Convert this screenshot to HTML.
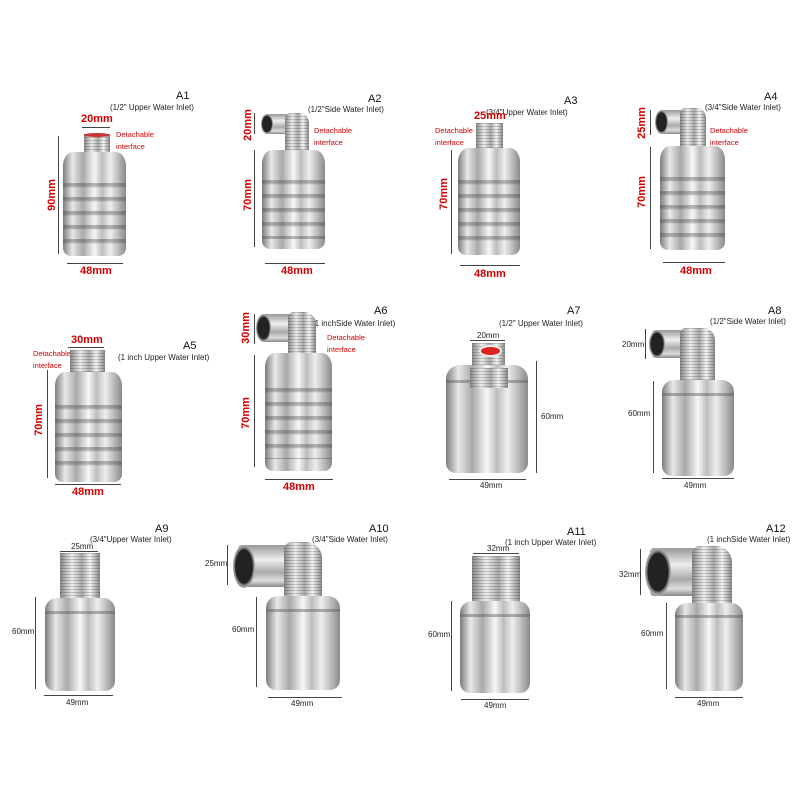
<!DOCTYPE html>
<html><head><meta charset="utf-8"><style>
body{margin:0;background:#fff}
#c{position:relative;width:800px;height:800px;overflow:hidden;background:#fff;font-family:"Liberation Sans",sans-serif}
#c div{position:absolute}
.b{background:linear-gradient(90deg,#7d7d7d,#e8e8e8 15%,#a9a9a9 32%,#f7f7f7 50%,#bdbdbd 62%,#eeeeee 75%,#8a8a8a);border-radius:10px 10px 8px 8px/14px 14px 8px 8px}
.r:after{content:"";position:absolute;left:0;right:0;top:30%;bottom:10%;background:repeating-linear-gradient(180deg,rgba(60,60,60,.35) 0,rgba(60,60,60,.35) 3px,rgba(255,255,255,0) 5px,rgba(255,255,255,0) 14px)}
.s:after{content:"";position:absolute;left:0;right:0;top:14%;height:3px;background:rgba(90,90,90,.45)}
.f{background:repeating-linear-gradient(180deg,rgba(0,0,0,.18) 0 1px,transparent 1px 3px),linear-gradient(90deg,#888,#eee 30%,#aaa 55%,#f5f5f5 75%,#888)}
.e{background:linear-gradient(180deg,#999,#eee 35%,#aaa 65%,#ddd 85%,#888);border-radius:4px}
.o{background:radial-gradient(ellipse,#222 55%,#777 60%,#ccc 75%,#888);border-radius:50%}
.t{font-size:8px;color:#222;white-space:nowrap}
.T{font-size:11px;color:#111;white-space:nowrap}
.R{font-size:11px;font-weight:bold;color:#d40000;white-space:nowrap}
.d{font-size:7.5px;color:#d40000;line-height:12px}
.k{font-size:8px;color:#222;white-space:nowrap}
.v{border-left:1px solid #444;width:0}
.h{border-top:1px solid #444;height:0}
.rot{transform:rotate(-90deg);transform-origin:center}
</style></head><body><div id="c">

<!-- A1 -->
<div class="T" style="left:176px;top:90px">A1</div>
<div class="t" style="left:110px;top:103px">(1/2" Upper Water Inlet)</div>
<div class="R" style="left:81px;top:113px">20mm</div>
<div class="h" style="left:82px;top:127px;width:28px"></div>
<div class="d" style="left:116px;top:129px">Detachable<br>interface</div>
<div class="f" style="left:84px;top:134px;width:26px;height:20px"></div>
<div style="left:84px;top:133px;width:26px;height:4px;background:#c33;border-radius:50%"></div>
<div class="b r" style="left:63px;top:152px;width:63px;height:104px"></div>
<div class="v" style="left:58px;top:136px;height:118px"></div>
<div class="R rot" style="left:36px;top:189px">90mm</div>
<div class="h" style="left:67px;top:263px;width:56px"></div>
<div class="R" style="left:80px;top:265px">48mm</div>

<!-- A2 -->
<div class="T" style="left:368px;top:93px">A2</div>
<div class="t" style="left:308px;top:105px">(1/2"Side Water Inlet)</div>
<div class="e" style="left:265px;top:114px;width:35px;height:20px"></div>
<div class="o" style="left:261px;top:114px;width:12px;height:20px"></div>
<div class="f" style="left:285px;top:113px;width:24px;height:40px;border-radius:6px 10px 2px 2px"></div>
<div class="d" style="left:314px;top:125px">Detachable<br>interface</div>
<div class="b r" style="left:262px;top:150px;width:63px;height:99px"></div>
<div class="v" style="left:254px;top:113px;height:21px"></div>
<div class="R rot" style="left:232px;top:119px">20mm</div>
<div class="v" style="left:254px;top:150px;height:97px"></div>
<div class="R rot" style="left:232px;top:189px">70mm</div>
<div class="h" style="left:265px;top:263px;width:60px"></div>
<div class="R" style="left:281px;top:265px">48mm</div>

<!-- A3 -->
<div class="T" style="left:564px;top:95px">A3</div>
<div class="t" style="left:486px;top:108px">(3/4"Upper Water Inlet)</div>
<div class="R" style="left:474px;top:110px">25mm</div>
<div class="d" style="left:435px;top:125px">Detachable<br>interface</div>
<div class="f" style="left:476px;top:123px;width:27px;height:26px"></div>
<div class="b r" style="left:458px;top:148px;width:62px;height:107px"></div>
<div class="v" style="left:451px;top:150px;height:104px"></div>
<div class="R rot" style="left:428px;top:188px">70mm</div>
<div class="h" style="left:460px;top:265px;width:60px"></div>
<div class="R" style="left:474px;top:268px">48mm</div>

<!-- A4 -->
<div class="T" style="left:764px;top:91px">A4</div>
<div class="t" style="left:705px;top:103px">(3/4"Side Water Inlet)</div>
<div class="e" style="left:658px;top:110px;width:40px;height:24px"></div>
<div class="o" style="left:655px;top:110px;width:13px;height:24px"></div>
<div class="f" style="left:680px;top:108px;width:26px;height:40px;border-radius:6px 10px 2px 2px"></div>
<div class="d" style="left:710px;top:125px">Detachable<br>interface</div>
<div class="b r" style="left:660px;top:146px;width:65px;height:104px"></div>
<div class="v" style="left:650px;top:110px;height:25px"></div>
<div class="R rot" style="left:626px;top:117px">25mm</div>
<div class="v" style="left:650px;top:147px;height:102px"></div>
<div class="R rot" style="left:626px;top:186px">70mm</div>
<div class="h" style="left:663px;top:262px;width:62px"></div>
<div class="R" style="left:680px;top:265px">48mm</div>

<!-- A5 -->
<div class="T" style="left:183px;top:340px">A5</div>
<div class="t" style="left:118px;top:353px">(1 inch Upper Water Inlet)</div>
<div class="R" style="left:71px;top:334px">30mm</div>
<div class="h" style="left:68px;top:347px;width:36px"></div>
<div class="d" style="left:33px;top:348px">Detachable<br>interface</div>
<div class="f" style="left:70px;top:350px;width:35px;height:25px"></div>
<div class="b r" style="left:55px;top:372px;width:67px;height:110px"></div>
<div class="v" style="left:47px;top:370px;height:108px"></div>
<div class="R rot" style="left:23px;top:414px">70mm</div>
<div class="h" style="left:55px;top:484px;width:66px"></div>
<div class="R" style="left:72px;top:486px">48mm</div>

<!-- A6 -->
<div class="T" style="left:374px;top:305px">A6</div>
<div class="t" style="left:312px;top:319px">(1 inchSide Water Inlet)</div>
<div class="e" style="left:260px;top:314px;width:42px;height:28px"></div>
<div class="o" style="left:256px;top:314px;width:15px;height:28px"></div>
<div class="f" style="left:288px;top:312px;width:28px;height:45px;border-radius:6px 12px 2px 2px"></div>
<div class="d" style="left:327px;top:332px">Detachable<br>interface</div>
<div class="b r" style="left:265px;top:353px;width:67px;height:118px"></div>
<div class="v" style="left:254px;top:314px;height:30px"></div>
<div class="R rot" style="left:230px;top:322px">30mm</div>
<div class="v" style="left:254px;top:355px;height:112px"></div>
<div class="R rot" style="left:230px;top:407px">70mm</div>
<div class="h" style="left:265px;top:479px;width:68px"></div>
<div class="R" style="left:283px;top:481px">48mm</div>

<!-- A7 -->
<div class="T" style="left:567px;top:305px">A7</div>
<div class="t" style="left:499px;top:319px">(1/2" Upper Water Inlet)</div>
<div class="k" style="left:477px;top:331px">20mm</div>
<div class="h" style="left:470px;top:340px;width:35px"></div>
<div class="f" style="left:472px;top:343px;width:33px;height:24px"></div>
<div style="left:479px;top:345px;width:19px;height:8px;background:#d22;border-radius:50%;border:2px solid #eee"></div>
<div class="b s" style="left:446px;top:365px;width:82px;height:108px;border-radius:14px 14px 10px 10px"></div>
<div class="f" style="left:470px;top:368px;width:38px;height:20px"></div>
<div class="v" style="left:536px;top:361px;height:112px"></div>
<div class="k" style="left:541px;top:412px">60mm</div>
<div class="h" style="left:449px;top:479px;width:77px"></div>
<div class="k" style="left:480px;top:481px">49mm</div>

<!-- A8 -->
<div class="T" style="left:768px;top:305px">A8</div>
<div class="t" style="left:710px;top:317px">(1/2"Side Water Inlet)</div>
<div class="e" style="left:652px;top:330px;width:40px;height:28px"></div>
<div class="o" style="left:649px;top:330px;width:16px;height:28px"></div>
<div class="f" style="left:680px;top:328px;width:35px;height:55px;border-radius:6px 12px 2px 2px"></div>
<div class="b s" style="left:662px;top:380px;width:72px;height:96px;border-radius:12px 12px 10px 10px"></div>
<div class="v" style="left:645px;top:329px;height:30px"></div>
<div class="k" style="left:622px;top:340px">20mm</div>
<div class="v" style="left:653px;top:381px;height:92px"></div>
<div class="k" style="left:628px;top:409px">60mm</div>
<div class="h" style="left:662px;top:478px;width:72px"></div>
<div class="k" style="left:684px;top:481px">49mm</div>

<!-- A9 -->
<div class="T" style="left:155px;top:523px">A9</div>
<div class="t" style="left:90px;top:535px">(3/4"Upper Water Inlet)</div>
<div class="k" style="left:71px;top:542px">25mm</div>
<div class="h" style="left:60px;top:551px;width:38px"></div>
<div class="f" style="left:60px;top:553px;width:40px;height:48px"></div>
<div class="b s" style="left:45px;top:598px;width:70px;height:93px;border-radius:12px 12px 10px 10px"></div>
<div class="v" style="left:35px;top:597px;height:92px"></div>
<div class="k" style="left:12px;top:627px">60mm</div>
<div class="h" style="left:44px;top:695px;width:69px"></div>
<div class="k" style="left:66px;top:698px">49mm</div>

<!-- A10 -->
<div class="T" style="left:369px;top:523px">A10</div>
<div class="t" style="left:312px;top:535px">(3/4"Side Water Inlet)</div>
<div class="e" style="left:238px;top:545px;width:55px;height:42px"></div>
<div class="o" style="left:233px;top:545px;width:22px;height:43px"></div>
<div class="f" style="left:284px;top:542px;width:38px;height:55px;border-radius:8px 16px 2px 2px"></div>
<div class="b s" style="left:266px;top:596px;width:74px;height:94px;border-radius:12px 12px 10px 10px"></div>
<div class="v" style="left:227px;top:545px;height:40px"></div>
<div class="k" style="left:205px;top:559px">25mm</div>
<div class="v" style="left:256px;top:597px;height:90px"></div>
<div class="k" style="left:232px;top:625px">60mm</div>
<div class="h" style="left:268px;top:697px;width:74px"></div>
<div class="k" style="left:291px;top:699px">49mm</div>

<!-- A11 -->
<div class="T" style="left:567px;top:526px">A11</div>
<div class="t" style="left:505px;top:538px">(1 inch Upper Water Inlet)</div>
<div class="k" style="left:487px;top:544px">32mm</div>
<div class="h" style="left:473px;top:553px;width:46px"></div>
<div class="f" style="left:472px;top:556px;width:48px;height:50px"></div>
<div class="b s" style="left:460px;top:601px;width:70px;height:92px;border-radius:12px 12px 10px 10px"></div>
<div class="v" style="left:451px;top:601px;height:90px"></div>
<div class="k" style="left:428px;top:630px">60mm</div>
<div class="h" style="left:461px;top:699px;width:68px"></div>
<div class="k" style="left:484px;top:701px">49mm</div>

<!-- A12 -->
<div class="T" style="left:766px;top:523px">A12</div>
<div class="t" style="left:707px;top:535px">(1 inchSide Water Inlet)</div>
<div class="e" style="left:650px;top:548px;width:55px;height:48px"></div>
<div class="o" style="left:645px;top:548px;width:26px;height:48px"></div>
<div class="f" style="left:692px;top:546px;width:40px;height:60px;border-radius:8px 16px 2px 2px"></div>
<div class="b s" style="left:675px;top:603px;width:68px;height:88px;border-radius:12px 12px 10px 10px"></div>
<div class="v" style="left:640px;top:549px;height:46px"></div>
<div class="k" style="left:619px;top:570px">32mm</div>
<div class="v" style="left:666px;top:603px;height:86px"></div>
<div class="k" style="left:641px;top:629px">60mm</div>
<div class="h" style="left:675px;top:697px;width:68px"></div>
<div class="k" style="left:697px;top:699px">49mm</div>

</div></body></html>
